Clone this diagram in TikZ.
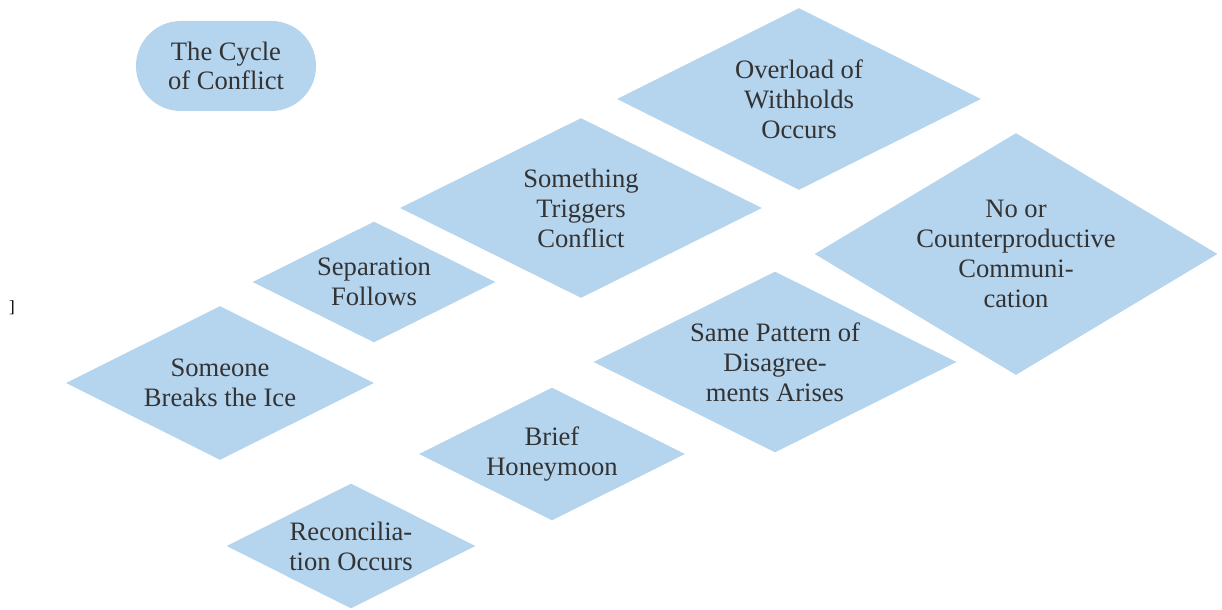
\documentclass[tikz,border=0pt]{standalone}
\usepackage{fontspec}
\setmainfont{Liberation Serif}
\usetikzlibrary{shapes.geometric}

\definecolor{phasefill}{RGB}{181,212,238}
\definecolor{phasetext}{RGB}{51,51,51}

\begin{document}
\begin{tikzpicture}[x=0.5pt,y=-0.5pt,
  phase/.style={diamond, aspect=2, fill=phasefill, text=phasetext,
    inner sep=0pt, align=center, font=\fontsize{13.3}{15}\selectfont},
  titlebox/.style={rectangle, rounded corners=22.4pt, fill=phasefill,
    text=phasetext, inner sep=0pt, align=center,
    minimum width=90pt, minimum height=45pt,
    font=\fontsize{13.3}{14.6}\selectfont}]

% Page frame
\useasboundingbox (0,0) rectangle (1222,610);

% Title
\node[titlebox] (title) at (226,66) {The Cycle\\of Conflict};

% Stray bracket at the left edge
\node[font=\fontsize{8.5}{9}\selectfont, inner sep=0pt] (mark) at (12,308) {]};

% Phases of the cycle
\node[phase, minimum width=182pt, minimum height=91pt] (overload) at (799,99)
  {Overload of\\Withholds\\Occurs};
\node[phase, aspect=1.66, minimum width=201.5pt, minimum height=121pt] (nocomm) at (1016,254)
  {No or\\Counterproductive\\Communi-\\cation};
\node[phase, minimum width=181pt, minimum height=90pt] (trigger) at (581,208)
  {Something\\Triggers\\Conflict};
\node[phase, minimum width=121.5pt, minimum height=60.5pt] (separation) at (374,282)
  {Separation\\Follows};
\node[phase, minimum width=154pt, minimum height=77pt] (icebreak) at (220,383)
  {Someone\\Breaks the Ice};
\node[phase, minimum width=181.5pt, minimum height=90.5pt] (pattern) at (775,362)
  {Same Pattern of\\Disagree-\\ments Arises};
\node[phase, minimum width=133pt, minimum height=66.5pt] (honeymoon) at (552,454)
  {Brief\\Honeymoon};
\node[phase, minimum width=124.5pt, minimum height=62.5pt] (reconcile) at (351,546)
  {Reconcilia-\\tion Occurs};

\end{tikzpicture}
\end{document}
